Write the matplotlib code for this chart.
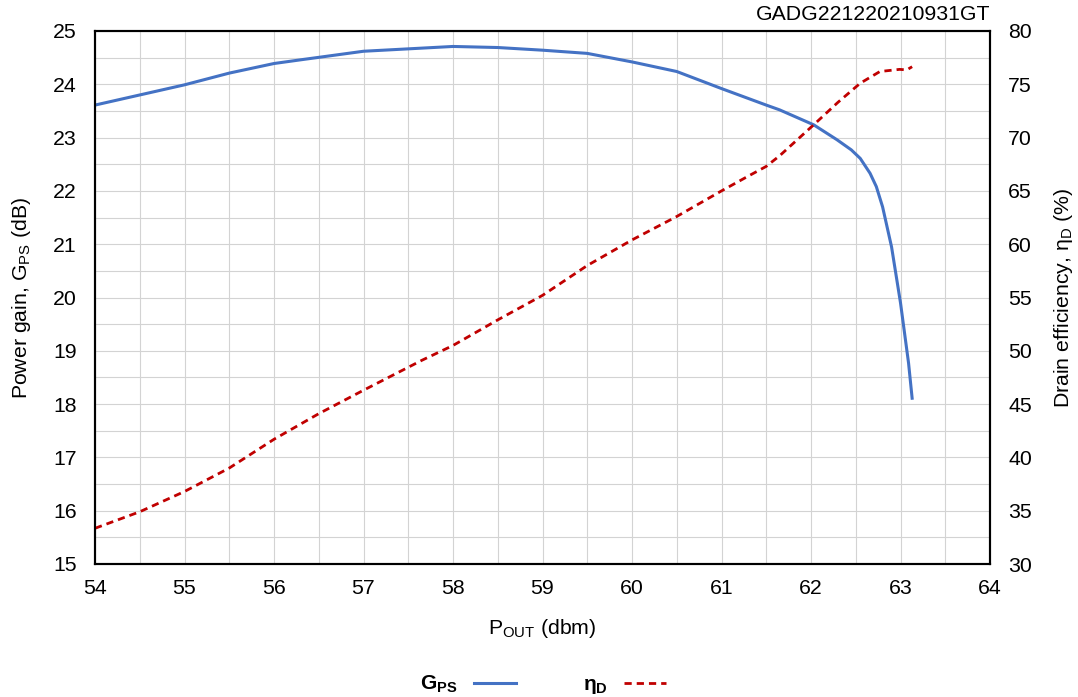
import numpy as np
import matplotlib as mlb
mlb.use('Agg')
import matplotlib.pyplot as plt
from matplotlib.ticker import MultipleLocator

plt.rcParams['font.family'] = ['Liberation Sans', 'DejaVu Sans']
plt.rcParams['mathtext.fontset'] = 'custom'
plt.rcParams['mathtext.rm'] = 'Liberation Sans'
plt.rcParams['mathtext.bf'] = 'Liberation Sans:bold'

# power gain vs output power
pout_g = [54.0, 55.0, 55.5, 56.0, 56.3, 57.0, 58.0, 58.5, 59.0, 59.5, 60.0, 60.5, 61.0, 61.5,
          61.65, 62.03, 62.29, 62.45, 62.55, 62.66, 62.73, 62.8, 62.9, 63.0, 63.09, 63.13]
gain = [23.61, 23.99, 24.21, 24.39, 24.46, 24.62, 24.71, 24.69, 24.64, 24.58, 24.42, 24.24,
        23.92, 23.61, 23.52, 23.24, 22.96, 22.77, 22.61, 22.33, 22.08, 21.70, 20.95, 19.90,
        18.77, 18.11]

# drain efficiency vs output power
pout_e = [54.0, 54.5, 55.0, 55.5, 56.0, 56.5, 57.0, 57.65, 58.0, 58.5, 59.0, 59.5, 60.0,
          60.5, 61.0, 61.28, 61.5, 61.65, 62.03, 62.3, 62.55, 62.77, 62.99, 63.07, 63.13]
eff = [33.35, 34.9, 36.8, 39.0, 41.7, 44.1, 46.3, 49.1, 50.5, 52.9, 55.2, 58.0, 60.4,
       62.6, 65.0, 66.3, 67.3, 68.3, 71.2, 73.3, 75.1, 76.2, 76.4, 76.35, 76.65]

fs = 15.3

fig = plt.figure(figsize=(10.78, 6.97), dpi=100)
ax = fig.add_axes([95/1078, 1-564/697, (990-95)/1078, (564-31)/697])
ax2 = ax.twinx()

ax.plot(pout_g, gain, color='#4472c4', lw=2.2, label=r'$\mathbf{G_{PS}}$')
ax2.plot(pout_e, eff, color='#c00000', lw=2.0, ls=(0, (2.6, 1.8)), label=r'$\mathbf{\eta_{D}}$')

ax.set_xlim(54, 64)
ax.set_ylim(15, 25)
ax2.set_ylim(30, 80)
ax.xaxis.set_major_locator(MultipleLocator(1))
ax.xaxis.set_minor_locator(MultipleLocator(0.5))
ax.yaxis.set_major_locator(MultipleLocator(1))
ax.yaxis.set_minor_locator(MultipleLocator(0.5))
ax2.yaxis.set_major_locator(MultipleLocator(5))

ax.grid(which='both', color='#d3d3d3', lw=0.8)
ax.set_axisbelow(True)

for a in (ax, ax2):
    a.tick_params(which='both', length=0, labelsize=fs)
    for s in a.spines.values():
        s.set_linewidth(1.5)
        s.set_color('black')
ax.tick_params(axis='x', pad=11)
ax.tick_params(axis='y', pad=13)
ax2.tick_params(axis='y', pad=13)

ax.set_xlabel(r'P$_{\mathregular{OUT}}$ (dbm)', fontsize=fs)
ax.set_ylabel(r'Power gain, G$_{\mathregular{PS}}$ (dB)', fontsize=fs)
ax2.set_ylabel(r'Drain efficiency, $\mathregular{\eta}_{\mathregular{D}}$ (%)', fontsize=fs)
ax.xaxis.set_label_coords(0.5, (564-617)/533)
ax.yaxis.set_label_coords((33-95)/895, 0.5)
ax2.yaxis.set_label_coords((1052-95)/895, 0.5)

fig.text(990/1078, 1-15/697, 'GADG221220210931GT', ha='right', va='center', fontsize=fs)

h1, l1 = ax.get_legend_handles_labels()
h2, l2 = ax2.get_legend_handles_labels()
fig.legend(h1 + h2, l1 + l2, loc='center', bbox_to_anchor=(543/1078, 1-685/697), ncol=2,
           frameon=False, markerfirst=False, fontsize=15, columnspacing=3.2,
           handlelength=2.0, handletextpad=0.8)

fig.savefig('out.png', dpi=100)
